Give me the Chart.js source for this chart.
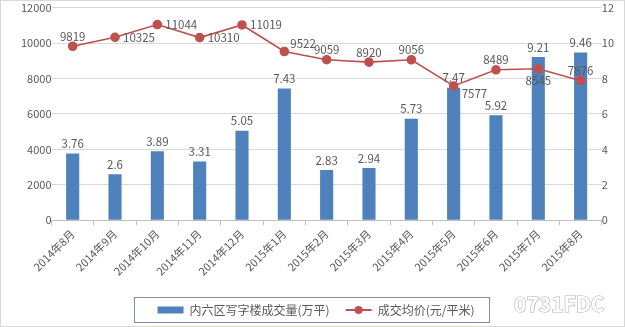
<!DOCTYPE html>
<html>
<head>
<meta charset="utf-8">
<script src="https://cdn.jsdelivr.net/npm/chart.js@4"></script>
<style>
  html, body { margin: 0; padding: 0; background: #fff; }
  #wrap { width: 625px; height: 327px; box-sizing: border-box; border: 1px solid #d9d9d9; }
</style>
</head>
<body>
<div id="wrap"><canvas id="chart" width="623" height="325"></canvas></div>
<script>
// categories and series
const months = ['2014年8月', '2014年9月', '2014年10月', '2014年11月', '2014年12月', '2015年1月', '2015年2月',
  '2015年3月', '2015年4月', '2015年5月', '2015年6月', '2015年7月', '2015年8月'];
const volume = [3.76, 2.6, 3.89, 3.31, 5.05, 7.43, 2.83, 2.94, 5.73, 7.47, 5.92, 9.21, 9.46];
const avgPrice = [9819, 10325, 11044, 10310, 11019, 9522, 9059, 8920, 9056, 7577, 8489, 8545, 7876];

// where each price label sits relative to its point
const priceLabelPos = ['top', 'right', 'right', 'right', 'right', 'topright', 'top', 'top', 'top', 'bottomright', 'top', 'bottom', 'top'];

const font = "'Noto Sans CJK SC', 'Liberation Sans', sans-serif";
const textColor = '#595959';
const barColor = '#4f81bd';
const lineColor = '#c0504d';

const labelsPlugin = {
  id: 'valueLabels',
  afterDatasetsDraw(chart) {
    const ctx = chart.ctx;
    ctx.save();
    ctx.font = '11.5px ' + font;
    ctx.fillStyle = textColor;
    ctx.textAlign = 'center';
    ctx.textBaseline = 'bottom';
    chart.getDatasetMeta(0).data.forEach((bar, i) => {
      ctx.fillText(String(volume[i]), bar.x, bar.y - 4);
    });
    chart.getDatasetMeta(1).data.forEach((pt, i) => {
      const p = priceLabelPos[i];
      let x = pt.x, y = pt.y;
      if (p === 'top') { ctx.textAlign = 'center'; ctx.textBaseline = 'bottom'; y -= 4; }
      else if (p === 'right') { ctx.textAlign = 'left'; ctx.textBaseline = 'middle'; x += 8; }
      else if (p === 'topright') { ctx.textAlign = 'left'; ctx.textBaseline = 'bottom'; x += 6; y -= 2; }
      else if (p === 'bottomright') { ctx.textAlign = 'left'; ctx.textBaseline = 'top'; x += 8; y += 2; }
      else if (p === 'bottom') { ctx.textAlign = 'center'; ctx.textBaseline = 'top'; y += 6; }
      ctx.fillText(String(avgPrice[i]), x, y);
    });
    ctx.restore();
  },
  afterDraw(chart) {
    const ctx = chart.ctx;
    const boxes = chart.legend.legendHitBoxes;
    ctx.save();
    // border round the legend items
    const l = Math.min(...boxes.map(b => b.left)) - 24;
    const r = Math.max(...boxes.map(b => b.left + b.width)) + 14;
    const cy = boxes[0].top + boxes[0].height / 2;
    ctx.strokeStyle = '#7f8fa9';
    ctx.lineWidth = 1;
    ctx.strokeRect(Math.round(l) + 0.5, Math.round(cy - 13) + 0.5, Math.round(r - l), 25);
    // line symbol with its dot
    const b = boxes[1];
    ctx.strokeStyle = lineColor;
    ctx.lineWidth = 2;
    ctx.beginPath();
    ctx.moveTo(b.left, cy);
    ctx.lineTo(b.left + 26, cy);
    ctx.stroke();
    ctx.fillStyle = lineColor;
    ctx.beginPath();
    ctx.arc(b.left + 13, cy, 4, 0, Math.PI * 2);
    ctx.fill();
    // watermark
    ctx.font = 'bold 21px ' + font;
    ctx.textAlign = 'left';
    ctx.textBaseline = 'middle';
    ctx.fillStyle = '#fff';
    ctx.strokeStyle = '#b0b0b0';
    ctx.lineWidth = 1.2;
    ctx.strokeText('0731FDC', 513, 303);
    ctx.fillText('0731FDC', 513, 303);
    ctx.restore();
  }
};

new Chart(document.getElementById('chart'), {
  data: {
    labels: months,
    datasets: [
      {
        type: 'bar',
        label: '内六区写字楼成交量(万平)',
        data: volume,
        yAxisID: 'y1',
        backgroundColor: barColor,
        borderColor: barColor,
        categoryPercentage: 1,
        barPercentage: 0.31,
        order: 2
      },
      {
        type: 'line',
        label: '成交均价(元/平米)',
        data: avgPrice,
        yAxisID: 'y',
        borderColor: lineColor,
        backgroundColor: lineColor,
        borderWidth: 1.6,
        pointRadius: 4,
        pointHoverRadius: 4,
        tension: 0,
        order: 1
      }
    ]
  },
  options: {
    responsive: false,
    animation: false,
    layout: { padding: { left: 7, right: 0, top: 0, bottom: 0 } },
    plugins: {
      tooltip: { enabled: false },
      legend: {
        position: 'bottom',
        labels: {
          color: textColor,
          font: { family: font, size: 12 },
          boxWidth: 26,
          boxHeight: 7,
          padding: 16,
          generateLabels(chart) {
            return chart.data.datasets.map((ds, i) => ({
              text: ds.label,
              fillStyle: i === 0 ? ds.backgroundColor : 'rgba(0,0,0,0)',
              strokeStyle: i === 0 ? ds.backgroundColor : 'rgba(0,0,0,0)',
              lineWidth: 0,
              datasetIndex: i,
              fontColor: textColor
            }));
          }
        }
      }
    },
    scales: {
      x: {
        offset: true,
        grid: { offset: true, drawOnChartArea: false, color: '#bfbfbf', tickLength: 5 },
        border: { color: '#bfbfbf' },
        ticks: { color: textColor, font: { family: font, size: 11 }, maxRotation: 45, minRotation: 45, padding: 2 },
        afterFit(scale) { scale.height += 8; }
      },
      y: {
        position: 'left',
        min: 0, max: 12000,
        ticks: { stepSize: 2000, color: textColor, font: { family: font, size: 11 }, padding: 0,
          callback: v => String(v) },
        grid: { color: '#d9d9d9', drawTicks: false },
        border: { display: false },
        afterFit(scale) { scale.width += 13; }
      },
      y1: {
        position: 'right',
        min: 0, max: 12,
        ticks: { stepSize: 2, color: textColor, font: { family: font, size: 11 }, padding: 0 },
        grid: { drawOnChartArea: false, drawTicks: false },
        border: { display: false },
        afterFit(scale) { scale.width += 10; }
      }
    }
  },
  plugins: [labelsPlugin]
});
</script>
</body>
</html>
